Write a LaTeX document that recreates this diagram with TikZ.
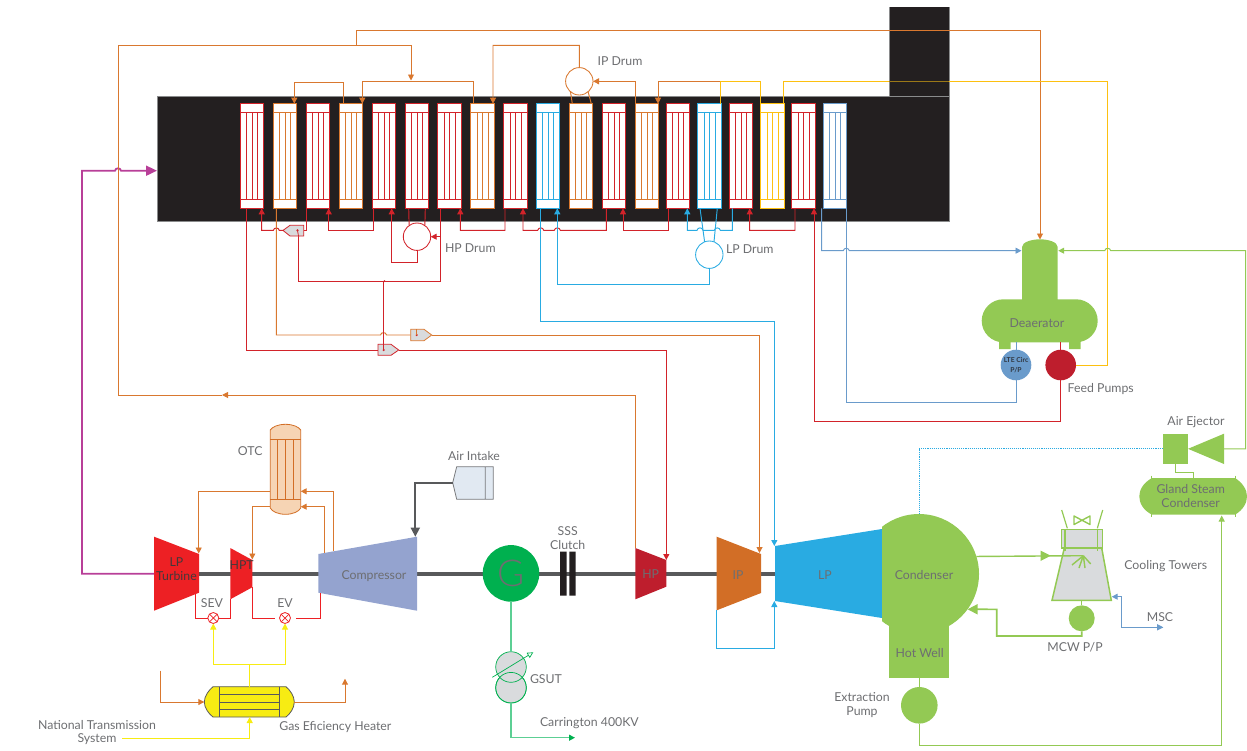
\documentclass[tikz,border=0pt]{standalone}
\usepackage{fontspec}
\setmainfont{Lato}
\newfontfamily\lightf{Lato Light}
\usetikzlibrary{arrows.meta,calc}
\definecolor{furn}{HTML}{231F20}
\definecolor{cR}{HTML}{D2232A}
\definecolor{cRb}{HTML}{ED2024}
\definecolor{cRd}{HTML}{BE1E2D}
\definecolor{cO}{HTML}{D9782F}
\definecolor{cOd}{HTML}{D26E26}
\definecolor{cB}{HTML}{29ABE2}
\definecolor{cS}{HTML}{6A9BCB}
\definecolor{cY}{HTML}{FDC010}
\definecolor{cG}{HTML}{93C954}
\definecolor{cP}{HTML}{B83F98}
\definecolor{cK}{HTML}{58595B}
\definecolor{cT}{HTML}{6D6E71}
\definecolor{cTd}{HTML}{43383A}
\definecolor{cGn}{HTML}{00B04F}
\definecolor{cGl}{HTML}{5CCF94}
\definecolor{cLG}{HTML}{D9DBDD}
\definecolor{cYe}{HTML}{F7EC13}
\definecolor{cCmp}{HTML}{94A3CF}
\definecolor{cOtc}{HTML}{F6D4B4}
\definecolor{cAir}{HTML}{E1E9F2}
\newcommand\hop[2]{-- ({#1-3},#2) .. controls ({#1-2.4},{#2-3.2}) and ({#1+2.4},{#2-3.2}) .. ({#1+3},#2)}
\newcommand\Bank[3]{%
  \node[bank,draw=#3] (#1) at ({#2+11.65},156) {};
  \draw[color=#3,line width=.7pt] (#2,112.3) -- ++(23.3,0) (#2,199.3) -- ++(23.3,0)
    ({#2+6.3},112.3) -- ({#2+6.3},199.3) ({#2+12},112.3) -- ({#2+12},199.3) ({#2+17.3},112.3) -- ({#2+17.3},199.3);}
\tikzset{
  bank/.style={rectangle,fill=white,minimum width=23.3pt,minimum height=104.6pt,inner sep=0pt,outer sep=0pt,line width=.9pt},
  pipe/.style={line width=.95pt},
  arrE/.style={-{Triangle[length=6pt,width=6pt]}},
  arrS/.style={{Triangle[length=6pt,width=6pt]}-},
  bigE/.style={-{Triangle[length=10pt,width=10pt]}},
  lbl/.style={text=cT,font=\fontsize{12.3}{13.6}\selectfont,inner sep=0pt,outer sep=0pt,align=center},
  pumpc/.style={circle,inner sep=0pt,outer sep=0pt},
  drum/.style={circle,draw,fill=white,minimum size=27.4pt,inner sep=0pt,outer sep=0pt,line width=.85pt},
  valvebox/.style={fill=cLG,line width=.8pt},
  xvalve/.style={circle,draw=cRb,fill=white,minimum size=11pt,inner sep=0pt,outer sep=0pt,line width=.8pt},
}
\begin{document}
\begin{tikzpicture}[x=1pt,y=-1pt]
\useasboundingbox (0,0) rectangle (1247,750);
% furnace
\fill[furn] (889,7) rectangle (949,96);
\fill[furn] (157,96) rectangle (949,221.7);
\draw[cK!70,line width=.6pt] (889,96) -- (889,7) (949,7) -- (949,221.7) -- (157,221.7) -- (157,96) -- (949,96);
% tube banks
\Bank{b1}{240.3}{cR}\Bank{b2}{273.3}{cO}\Bank{b3}{306.3}{cR}\Bank{b4}{339.3}{cO}
\Bank{b5}{372.3}{cR}\Bank{b6}{405}{cR}\Bank{b7}{437.7}{cR}\Bank{b8}{470.7}{cO}
\Bank{b9}{503.7}{cR}\Bank{b10}{536.3}{cB}\Bank{b11}{569.3}{cO}\Bank{b12}{602.3}{cR}
\Bank{b13}{635}{cO}\Bank{b14}{666.3}{cR}\Bank{b15}{697.7}{cB}\Bank{b16}{729}{cR}
\Bank{b17}{760.7}{cY}\Bank{b18}{791.7}{cR}\Bank{b19}{823}{cS}
% drums
\node[drum,draw=cR] (hpd) at (417,236.7) {};
\node[drum,draw=cO] (ipd) at (579.3,81.3) {};
\node[drum,draw=cB] (lpd) at (709.3,254.7) {};
\node[lbl,anchor=west] (hpdl) at (445,248.5) {HP Drum};
\node[lbl,anchor=west] (ipdl) at (597.7,60.7) {IP Drum};
\node[lbl,anchor=west] (lpdl) at (726,248.7) {LP Drum};
% deaerator
\fill[cG] (1022,299.3) -- (1022,247) .. controls (1022,242) and (1032,239.3) .. (1040,239.3)
  .. controls (1048,239.3) and (1057.7,242) .. (1057.7,247) -- (1057.7,299.3) -- (1076.2,299.3)
  .. controls (1088,299.3) and (1097.7,309) .. (1097.7,320.8) .. controls (1097.7,332.6) and (1088,342.3) .. (1076.2,342.3)
  -- (1003.2,342.3) .. controls (991.4,342.3) and (981.7,332.6) .. (981.7,320.8) .. controls (981.7,309) and (991.4,299.3) .. (1003.2,299.3) -- cycle;
\fill[cG] (999,342) rectangle (1010.7,349) (1069,342) rectangle (1080.7,349);
\coordinate (deaL) at (1021.5,250.7); \coordinate (deaR) at (1058.2,250.7); \coordinate (deaT) at (1040,239.5);
\coordinate (deaP1) at (1016,342.3); \coordinate (deaP2) at (1060.7,342.3);
\node[lbl] (deal) at (1037,322.7) {Deaerator};
\node[pumpc,fill=cS,minimum size=30.6pt,text=furn!80!cS,font=\bfseries\fontsize{6.8}{9.5}\selectfont,align=center] (lte) at (1016,365) {LTE Circ\\P/P};
\node[pumpc,fill=cRd,minimum size=30.6pt] (feed) at (1060.7,365) {};
\node[lbl,anchor=west] (feedl) at (1067.7,388.7) {Feed Pumps};
% air ejector, gland steam condenser
\node[rectangle,fill=cG,minimum width=25.3pt,minimum height=30.3pt,inner sep=0pt,outer sep=0pt] (ejs) at (1175.7,448.8) {};
\fill[cG] (1188,448.8) -- (1224,433.7) -- (1224,464) -- cycle;
\coordinate (ejb) at (1224,448.8);
\node[lbl] (ejl) at (1196,422.3) {Air Ejector};
\fill[cG] (1152,478) .. controls (1143,483) and (1139.3,490) .. (1139.3,496.4) .. controls (1139.3,503) and (1143,510) .. (1152,514.7)
  -- (1235,514.7) .. controls (1243,510) and (1247,503) .. (1247,496.4) .. controls (1247,490) and (1243,483) .. (1235,478) -- cycle;
\draw[cG,line width=.7pt] (1151.7,475.5) -- (1151.7,517.3) (1235,475.5) -- (1235,517.3);
\coordinate (gsT) at (1193.7,478); \coordinate (gsB) at (1221.7,515.5);
\node[lbl] (gsl) at (1190.7,496.3) {Gland Steam\\Condenser};
% shaft
\draw[cK,line width=4.4pt] (199,573.7) -- (790,573.7);
% turbines
\fill[cRb] (154,536.7) -- (199,554) -- (199,592.7) -- (154,610.7) -- cycle;
\fill[cRb] (230.3,548) -- (252.3,560) -- (252.3,587.3) -- (230.3,599.3) -- cycle;
\fill[cCmp] (318.3,554) -- (417,536.7) -- (417,610.7) -- (318.3,592.7) -- cycle;
\fill[cRd] (635.3,548) -- (666.3,560) -- (666.3,586.7) -- (635.3,599.3) -- cycle;
\fill[cOd] (716.7,536.7) -- (761,554) -- (761,593) -- (716.7,610.3) -- cycle;
\fill[cB] (775,546) -- (882,529) -- (882,618) -- (775,601) -- cycle;
\coordinate (lptI) at (198.7,553.5); \coordinate (lptO) at (154,573.7); \coordinate (lptB) at (195.7,592);
\coordinate (hptI) at (252.3,559.5); \coordinate (hptB1) at (230.3,599); \coordinate (hptB2) at (252.3,587);
\coordinate (cmpA) at (333.3,551.4); \coordinate (cmpB) at (324,553); \coordinate (cmpC) at (320,592.7); \coordinate (cmpT) at (415.3,536.7);
\coordinate (hpT1) at (635.3,548); \coordinate (hpT2) at (666.3,560);
\coordinate (ipT) at (759.5,553); \coordinate (ipB) at (716.7,610.3);
\coordinate (lpT) at (774.3,546); \coordinate (lpB) at (774.3,601);
\node[lbl,text=cTd] (lptl) at (176.5,569) {LP\\Turbine};
\node[lbl,text=cTd] (hptl) at (241.7,565) {HPT};
\node[lbl] (cmpl) at (374,575.7) {Compressor};
\node[lbl] (hpl) at (650.7,574) {HP};
\node[lbl] (ipl) at (738,575) {IP};
\node[lbl] (lpl) at (825,575) {LP};
% generator, clutch, transformer
\node[pumpc,fill=cGn,minimum size=56.6pt,text=cT,font=\lightf\fontsize{37}{37}\selectfont] (gen) at (511,573.4) {G};
\fill[furn] (560,551.7) rectangle (566.7,595.7) (569.3,551.7) rectangle (575.7,595.7);
\node[lbl] (clutchl) at (567.7,538.2) {SSS\\Clutch};
\node[pumpc,draw=cGn,fill=cLG,minimum size=30.6pt,line width=.7pt] (tb) at (511,687.7) {};
\node[pumpc,draw=cGn,fill=cLG,minimum size=30.6pt,line width=.7pt] (ta) at (511,667) {};
\draw[cGn,line width=.7pt] (511,687.7) circle[radius=15.3pt];
\coordinate (tc1) at (492.3,677.3); \coordinate (tc2) at (533.3,652.3);
\draw[cGn,line width=.7pt,-{Triangle[open,length=6pt,width=6pt]}] (tc1) -- (tc2);
\node[lbl,anchor=west] (gsutl) at (530,679.5) {GSUT};
\node[lbl,anchor=west] (carl) at (540,722.7) {Carrington 400KV};
\coordinate (carr) at (575,737.7);
\draw[cGl,line width=1.2pt] (gen.south) -- (ta.north);
\draw[cGl,line width=1.2pt,-{Triangle[length=6pt,width=6pt,color=cGn]}] (tb.south) |- (carr);
% OTC
\draw[cOd,fill=cOtc,line width=.8pt] (270.3,430) .. controls (272,427) and (278,424.3) .. (285.5,424.3) .. controls (293,424.3) and (299,427) .. (300.7,430)
  -- (300.7,508) .. controls (299,511.5) and (293,514.3) .. (285.5,514.3) .. controls (278,514.3) and (272,511.5) .. (270.3,508) -- cycle;
\draw[cOd,line width=.7pt] (270.3,439.3) -- (300.7,439.3) (270.3,499.3) -- (300.7,499.3)
  (277.7,439.3) -- (277.7,499.3) (285.3,439.3) -- (285.3,499.3) (293,439.3) -- (293,499.3);
\coordinate (otcL1) at (270.3,491.3); \coordinate (otcL2) at (270.3,506.7);
\coordinate (otcR1) at (300.7,491.3); \coordinate (otcR2) at (300.7,506.7);
\node[lbl,anchor=east] (otcl) at (262.5,450.7) {OTC};
% air intake
\draw[cK!80,fill=cAir,line width=.8pt] (452.7,482.7) -- (456.7,466.7) -- (493.3,466.7) -- (493.3,499.3) -- (456.7,499.3) -- cycle (485.3,466.7) -- (485.3,499.3);
\coordinate (airI) at (452.7,482.7);
\node[lbl] (airl) at (474,455.7) {Air Intake};
\draw[cK,line width=1.7pt,-{Triangle[length=9pt,width=9pt]}] (airI) -| (cmpT);
% heater
\draw[cK,fill=cYe,line width=.8pt] (213,686.7) -- (286,686.7) .. controls (290,690) and (294.3,696) .. (294.3,702) .. controls (294.3,708) and (290,714) .. (286,717) -- (213,717) .. controls (209,714) and (204.3,708) .. (204.3,702) .. controls (204.3,696) and (209,690) .. (213,686.7) -- cycle;
\draw[cK,line width=.8pt] (219.3,686.7) -- (219.3,717) (279.3,686.7) -- (279.3,717) (219.3,694.3) -- (279.3,694.3) (219.3,702) -- (279.3,702) (219.3,709.7) -- (279.3,709.7);
\coordinate (htL) at (204.3,702); \coordinate (htR) at (294.3,702); \coordinate (htT) at (249.7,686.7); \coordinate (htB) at (249.7,717);
\node[lbl,anchor=west] (htl) at (279.3,726.7) {Gas Eficiency Heater};
\node[lbl] (ntl) at (97,732.5) {National Transmission\\System};
\coordinate (ntS) at (122,738); \coordinate (oin) at (160,670.7); \coordinate (oout) at (345,678.7);
\draw[pipe,cO,arrE] (oin) |- (htL);
\draw[pipe,cO,arrE] (htR) -| (oout);
\draw[pipe,cYe,line width=1pt,arrE] (ntS) -| (htB);
% SEV, EV valves
\node[xvalve] (sev) at (213.3,618) {};
\node[xvalve] (ev) at (285,618) {};
\draw[cRb,line width=.7pt] (sev.45) -- (sev.225) (sev.135) -- (sev.315) (ev.45) -- (ev.225) (ev.135) -- (ev.315);
\node[lbl] (sevl) at (212,603.3) {SEV};
\node[lbl] (evl) at (285,603.3) {EV};
\coordinate (evL) at (275,618); \coordinate (evR) at (296,618);
\draw[pipe,cRb] (lptB) |- (sev.west) (sev.east) -| (hptB1);
\draw[pipe,cRb] (hptB2) |- (evL) (evR) -| (cmpC);
\coordinate (yj) at (249.7,664.7);
\draw[cYe,line width=1pt] (htT) -- (yj);
\draw[cYe,line width=1pt,arrE] (yj) -| (sev.south);
\draw[cYe,line width=1pt,arrE] (yj) -| (ev.south);
% OTC pipes
\draw[pipe,cO,arrE] (otcL1) -| (lptI);
\draw[pipe,cO,arrE] (otcL2) -| (hptI);
\draw[pipe,cO,arrE] (cmpA) |- (otcR1);
\draw[pipe,cO,arrE] (cmpB) |- (otcR2);
% purple exhaust to furnace
\coordinate (furnI) at (157,170.7);
\draw[cP,line width=1.8pt,-{Triangle[length=11pt,width=10pt]}] (lptO) -- (82,573.7) -- (82,170.7) \hop{118}{170.7} -- (furnI);
% condenser
\begin{scope}
\clip (882,500) rectangle (1000,640);
\fill[cG] (919,574) circle[radius=60pt];
\end{scope}
\fill[cG] (889,620) rectangle (949,677.7);
\node[pumpc,minimum size=120pt] (cond) at (919,574) {};
\node[lbl] (condl) at (924,575.3) {Condenser};
\node[lbl] (hwl) at (919.7,653.3) {Hot Well};
\coordinate (hw) at (919.3,677.7);
\node[pumpc,fill=cG,minimum size=36.6pt] (ext) at (919.3,705.3) {};
\node[lbl] (extl) at (862,705.2) {Extraction\\Pump};
\draw[pipe,cG] (hw) -- (ext.north);
\draw[cG,line width=1pt,arrE] (ext.south) |- (1221.7,745.7) -- (gsB);
\draw[pipe,cG] (ejs.south -| 1175.3,0) |- (1193.7,472.3) -- (gsT);
\draw[cB,densely dotted,line width=.9pt] (ejs.west) -| (cond.north);
% cooling tower
\fill[cLG] (1052,600.3) -- (1064.3,548) -- (1101.7,548) -- (1111.3,600.3) -- cycle;
\fill[cLG] (1061.7,529.3) rectangle (1102.7,548);
\draw[cG,line width=1.5pt,line join=miter] (1064.3,548) -- (1052,600.3) -- (1111.3,600.3) -- (1101.7,548);
\draw[cG,line width=1.2pt] (1061.7,529.3) rectangle (1102.7,548);
\draw[cG,line width=1.2pt] (1065,529.3) -- (1065,551) (1097.3,529.3) -- (1097.3,551);
\draw[cG,line width=1.2pt] (1061.7,510) -- (1067.3,528.3) (1102.7,510) -- (1097.3,528.3);
\draw[cG,line width=1.4pt,line join=round] (1074,516) -- (1090,524.5) -- (1090,516) -- (1074,524.5) -- cycle;
\node[pumpc,fill=cG,minimum size=26pt] (mcw) at (1081.7,618.3) {};
\coordinate (towerB) at (1081.7,600.3); \coordinate (towerR) at (1111.7,596.7); \coordinate (spray) at (1083.3,555.7);
\draw[cG,line width=1.4pt] (towerB) -- (mcw.north);
\draw[cG,line width=1.4pt] (cond.17.5) -- (spray);
\draw[cG,line width=1.4pt] (spray) -- (1072,565) (spray) -- (1079,568) (spray) -- (1085,568) (spray) -- (1090.7,564);
\fill[cG] (1050.7,555.7) -- (1040.5,550.5) -- (1040.5,561) -- cycle;
\draw[cG,line width=1.6pt,bigE] (mcw.south) -- (1081.7,636) -- (996.7,636) -- (996.7,609.3) -- (cond.-36);
\coordinate (mscE) at (1163.3,627.3);
\draw[pipe,cS,arrS] (towerR) -- (1121.7,596.7) |- (mscE);
\fill[cS] (mscE) -- (1157,624) -- (1157,630.6) -- cycle;
\node[lbl,anchor=west] (ctl) at (1124.3,565.7) {Cooling Towers};
\node[lbl] (mscl) at (1160,617.3) {MSC};
\node[lbl] (mcwl) at (1075,647) {MCW P/P};
% upper steam pipes (orange)
\draw[pipe,cO,arrE] ([xshift=-7.25pt]b4.north) -- +(0,-21.7) -| ([xshift=9.35pt]b2.north);
\draw[pipe,cO,arrE] ([xshift=-8.65pt]b8.north) |- (362.3,81.3) -- ([xshift=11.35pt]b4.north);
\coordinate (oj) at (356.7,45.3);
\coordinate (hpm) at (222,395);
\draw[pipe,cO,arrE] (hpT1) |- (hpm);
\draw[pipe,cO,arrE] (hpm) -| (118,45.3) -| (411,80.5);
\draw[pipe,cO,arrE] (oj) |- (1040,30) -- (deaT);
\draw[pipe,cO,arrE] (ipd.north) |- (493,45.3) -- ([xshift=10.65pt]b8.north);
\draw[pipe,cO,arrE] ([xshift=-11.65pt]b13.north) |- (ipd.east);
\coordinate (yo) at (720.7,81.3);
\draw[pipe,cO,arrE] (yo) -| ([xshift=11.35pt]b13.north);
\draw[pipe,cO] ([xshift=-8.65pt]b11.north) -- (ipd.-130) ([xshift=10.35pt]b11.north) -- (ipd.-50);
% yellow
\draw[pipe,cY] ([xshift=11.35pt]b15.north) -- (yo) -- (760.7,81.3) -- ([xshift=-11.65pt]b17.north);
\draw[pipe,cY] ([xshift=10.95pt]b17.north) |- (889,81.3);
\draw[pipe,cY!55!furn] (889,81.3) -- (949,81.3);
\draw[pipe,cY] (949,81.3) -- (1107.7,81.3) |- (feed.east);
% red below banks
\coordinate (v1w) at (283,230.4); \coordinate (v1e) at (303.7,230.4);
\coordinate (v2w) at (410.7,335); \coordinate (v2e) at (431.7,335);
\coordinate (v3w) at (378,350); \coordinate (v3e) at (398.7,350);
\coordinate (rj) at (384.5,281);
\draw[pipe,cR,arrS] ([xshift=9.75pt]b1.south) -- (261.7,230.4) \hop{276.3}{230.4} -- (v1w);
\draw[pipe,cR] (v1e) -- (306.7,230.4) -- ([xshift=-11.25pt]b3.south);
\draw[pipe,cR,arrS] ([xshift=10.75pt]b3.south) |- (373.7,230.3) -- ([xshift=-10.25pt]b5.south);
\draw[pipe,cR,arrS] ([xshift=7.75pt]b5.south) |- (417,262.7) -- (hpd.south);
\draw[pipe,cR] ([xshift=-7.95pt]b6.south) -- (hpd.125) ([xshift=8.65pt]b6.south) -- (hpd.55);
\draw[pipe,cR,arrS] (hpd.east) -- (440.7,236.7);
\draw[pipe,cR] ([xshift=-8.65pt]b7.south) |- (298.7,281) -- (298.7,237);
\draw[pipe,cR,arrS] ([xshift=10.95pt]b7.south) |- (505,230.3) -- ([xshift=-10.35pt]b9.south);
\draw[pipe,cR,arrS] ([xshift=7.65pt]b9.south) -- (523,230.3) \hop{540.7}{230.3} \hop{557.3}{230.3} -- (606.3,230.3) -- ([xshift=-7.65pt]b12.south);
\draw[pipe,cR,arrS] ([xshift=9.05pt]b12.south) |- (668,230.3) -- ([xshift=-9.95pt]b14.south);
\draw[pipe,cR,arrS] ([xshift=9.05pt]b16.south) |- (795,230.3) -- ([xshift=-8.35pt]b18.south);
\draw[pipe,cR,arrS] ([xshift=10.65pt]b18.south) |- (1060.7,421.7) -- (feed.south);
\draw[pipe,cR] (feed.north) -- (deaP2);
\draw[pipe,cR] ([xshift=-5.65pt]b1.south) |- (v3w);
\draw[pipe,cR,arrE] (v3e) -| (hpT2);
\draw[pipe,cO] ([xshift=-8.65pt]b2.south) -- (276.3,335) \hop{383.5}{335} -- (v2w);
\draw[pipe,cO,arrE] (v2e) -| (ipT);
\draw[pipe,cR] (rj) -- (383.7,281) -- (383.7,350);
% blue
\draw[pipe,cB,arrE] ([xshift=-7.25pt]b10.south) |- (774.3,321) -- (lpT);
\draw[pipe,cB,arrS] ([xshift=9.35pt]b10.south) |- (709.3,284) -- (lpd.south);
\draw[pipe,cB,arrS] ([xshift=9.35pt]b14.south) -- (687.3,230.3) \hop{700}{230.3} \hop{717.3}{230.3} -- (732.3,230.3) -- ([xshift=-8.35pt]b16.south);
\draw[pipe,cB] ([xshift=-9.35pt]b15.south) -- (lpd.110) ([xshift=7.95pt]b15.south) -- (lpd.70);
\draw[pipe,cB,arrE] (ipB) |- (774.3,648.3) -- (lpB);
% steel blue
\draw[pipe,cS,arrE] ([xshift=-12.95pt]b19.south) -- (821.7,250.7) \hop{846.3}{250.7} -- (deaL);
\draw[pipe,cS] ([xshift=11.65pt]b19.south) |- (1016,402) -- (lte.south);
\draw[pipe,cS] (lte.north) -- (deaP1);
% green feed to deaerator
\draw[cG,line width=1pt,arrS] (deaR) \hop{1107.7}{250.7} -- (1245.7,250.7) |- (ejb);
% valves
\draw[cR,valvebox] (283,230.4) -- (290,225.3) -- (303.7,225.3) -- (303.7,236) -- (290,236) -- cycle;
\draw[cO,valvebox] (410.7,329.3) -- (424,329.3) -- (431.7,335) -- (424,340.7) -- (410.7,340.7) -- cycle;
\draw[cR,valvebox] (378,344.3) -- (391,344.3) -- (398.7,350) -- (391,355.3) -- (378,355.3) -- cycle;
\draw[cR,line width=.8pt] (297.5,230.4) -- (298.7,237);
\fill[cR] (297.5,230.4) circle[radius=1.2pt] (416.7,335) circle[radius=1.2pt] (383.7,350) circle[radius=1.2pt] (rj) circle[radius=1pt];
\draw[cO,line width=.8pt] (416.7,329.3) -- (416.7,335);
\draw[cR,line width=.8pt] (383.7,344.3) -- (383.7,350);
\end{tikzpicture}
\end{document}
